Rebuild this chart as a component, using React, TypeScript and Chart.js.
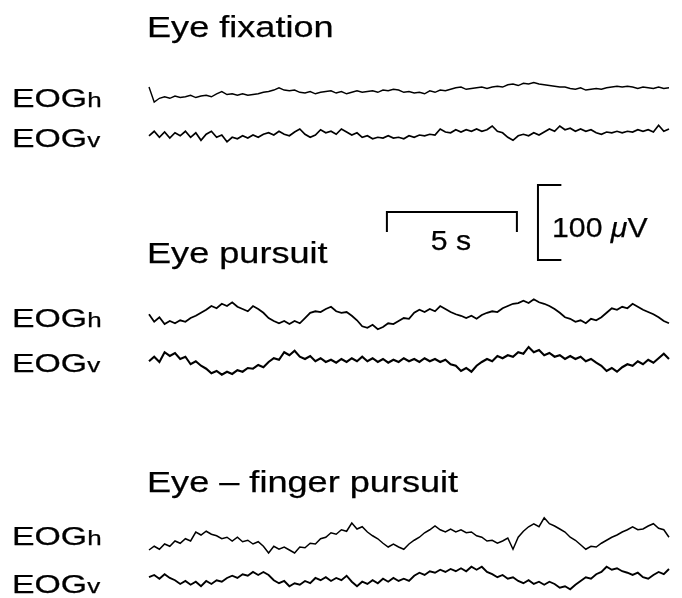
import React, { useEffect, useRef } from "react";
import { Chart, registerables } from "chart.js";

Chart.register(...registerables);

// ---- data (μV, relative to each trace's own baseline), sampled every 0.2 s ----
const SAMPLE_INTERVAL_S = 0.2;

const fixationH = [
  8, -12, -7, -5, -7, -4, -6, -5, -3, -6,
  -4, -3, -5, -1, 2, -2, -1, -3, -1, -3,
  -2, -1, 1, 2, 4, 7, 4, 3, 4, 1,
  0, 2, -1, 1, 2, 3, 0, 2, -1, 1,
  3, 1, 2, 3, 1, 4, 3, 5, 4, 1,
  2, 0, 1, -1, 3, 1, 4, 3, 5, 7,
  8, 5, 6, 7, 8, 6, 8, 9, 8, 11,
  12, 10, 13, 12, 14, 12, 11, 10, 9, 8,
  8, 6, 5, 7, 4, 5, 6, 5, 7, 8,
  9, 8, 9, 8, 6, 8, 7, 6, 8, 6,
  7,
];

const fixationV = [
  -1, 5, -3, 4, -4, 3, -1, 5, -3, 3,
  -7, 1, 5, -3, 0, -9, -3, -5, -1, -4,
  0, -3, 1, 3, 0, 5, 1, -1, 4, 8,
  1, -3, 0, 7, 3, 5, 1, 8, 4, 0,
  3, -3, -1, -5, -3, -4, -1, -4, -3, -5,
  -1, -3, 0, -1, 1, 0, 8, 4, 3, 7,
  4, 7, 5, 8, 5, 7, 12, 5, 3, -3,
  -7, -1, 1, -1, 3, 0, 4, 8, 5, 12,
  7, 9, 5, 8, 5, 7, 3, 1, 4, 3,
  5, 3, 5, 4, 7, 5, 7, 4, 13, 5,
  8,
];

const pursuitH = [
  1, -9, -3, -12, -8, -11, -7, -9, -4, -1,
  3, 7, 12, 9, 15, 12, 17, 11, 8, 5,
  12, 8, 3, -4, -8, -11, -8, -12, -8, -11,
  -4, 3, 5, 4, 8, 11, 5, 3, 4, -1,
  -7, -15, -17, -13, -19, -16, -11, -12, -8, -4,
  -5, 3, 7, 4, 8, 5, 12, 8, 4, 1,
  -1, -4, -1, -5, 0, 3, 5, 4, 9, 12,
  15, 16, 19, 16, 21, 17, 15, 12, 8, 3,
  -3, -5, -9, -7, -11, -5, -7, -3, 3, 9,
  7, 11, 9, 15, 11, 7, 4, 1, -3, -8,
  -11,
];

const pursuitV = [
  1, 7, 0, 13, 8, 12, 4, 7, -3, 1,
  -5, -9, -15, -12, -17, -13, -16, -11, -13, -8,
  -9, -4, -7, 0, 5, 3, 13, 9, 15, 7,
  4, 8, 1, 5, 0, 3, -1, 4, 0, 5,
  1, 7, 1, 5, 0, 4, -1, 3, 0, 5,
  1, 4, 0, 5, 1, 4, 0, 3, -3, -5,
  -12, -8, -13, -5, 0, 4, 1, 8, 5, 9,
  7, 13, 11, 20, 13, 16, 9, 12, 7, 9,
  4, 8, 4, 7, 1, 4, -1, -5, -12, -8,
  -13, -7, -3, -5, 1, -3, 3, -1, 5, 11,
  4,
];

const fingerH = [
  -16, -11, -15, -8, -11, -4, -7, -1, -4, 8,
  4, 9, 5, 3, -1, 1, -4, 1, -5, -3,
  -8, -5, -11, -20, -11, -15, -12, -16, -20, -12,
  -13, -7, -8, -1, 1, 7, 5, 11, 9, 20,
  12, 15, 8, 3, -1, -7, -12, -8, -12, -15,
  -8, -3, 1, 7, 11, 16, 11, 8, 12, 8,
  11, 7, 8, 3, 1, -4, -3, -7, -4, 0,
  -15, 1, 9, 15, 19, 15, 27, 19, 16, 12,
  8, 1, -3, -9, -15, -11, -12, -7, -3, 1,
  4, 8, 11, 15, 11, 12, 16, 19, 13, 11,
  1,
];

const fingerV = [
  1, 4, -1, 5, 0, -3, -8, -4, -9, -5,
  -11, -4, -8, -3, -5, 0, 3, 0, 5, 3,
  8, 4, 8, 4, -3, -7, -4, -11, -7, -9,
  -4, -7, 0, -3, 1, -4, 0, -3, 3, -5,
  -11, -5, -8, -3, -7, -1, -5, 0, -4, -1,
  -4, 3, 7, 4, 9, 7, 11, 8, 12, 9,
  13, 9, 15, 11, 15, 8, 5, 1, 4, -1,
  1, -4, -7, -3, -8, -5, -9, -5, -8, -13,
  -11, -15, -9, -4, 1, -1, 5, 8, 15, 11,
  13, 9, 7, 4, 7, 1, -1, 4, 8, 5,
  12,
];

const sectionTitles = ["Eye fixation", "Eye pursuit", "Eye \u2013 finger pursuit"];
const channelMain = "EOG";
const channelSubs = ["h", "v"];
const timeScaleLabel = "5 s";
const voltScaleLabel = ["100 ", "\u03bc", "V"];
const TIME_SCALE_S = 5;
const VOLT_SCALE_UV = 100;

// ---- layout ----
const W = 682;
const H = 598;
const PX_PER_S = 26;
const PX_PER_UV = 0.75;
const TRACE_LEFT_PX = 149;
const FONT = '"Liberation Sans", Arial, Helvetica, sans-serif';

// baseline of each trace, in μV on the shared vertical axis
const traceBaselines = [673.3, 617.3, 377.3, 314.7, 80, 26.7];
const traceWidths = [1.4, 1.7, 1.8, 2.1, 1.5, 1.9];

const TIME_BAR_START_S = 9.15;
const TIME_BAR_Y_UV = 514.7;
const TIME_BAR_TICK_UV = 26.7;
const VOLT_BAR_X_S = 14.96;
const VOLT_BAR_BOTTOM_UV = 450.7;
const VOLT_BAR_TICK_S = 0.9;

export default function App() {
  const ref = useRef<HTMLCanvasElement | null>(null);

  useEffect(() => {
    document.body.style.margin = "0";
    const canvas = ref.current;
    if (!canvas) return;

    const xMin = -TRACE_LEFT_PX / PX_PER_S;
    const xMax = xMin + W / PX_PER_S;
    const yMax = H / PX_PER_UV;

    const series = [fixationH, fixationV, pursuitH, pursuitV, fingerH, fingerV];
    const traceSets = series.map((vals, k) => ({
      label: "trace" + k,
      data: vals.map((v, i) => ({ x: i * SAMPLE_INTERVAL_S, y: v + traceBaselines[k] })),
      borderColor: "#000",
      borderWidth: traceWidths[k],
      borderJoinStyle: "miter",
      pointRadius: 0,
      tension: 0,
      fill: false,
    }));

    const timeBar = {
      label: "timebar",
      data: [
        { x: TIME_BAR_START_S, y: TIME_BAR_Y_UV - TIME_BAR_TICK_UV },
        { x: TIME_BAR_START_S, y: TIME_BAR_Y_UV },
        { x: TIME_BAR_START_S + TIME_SCALE_S, y: TIME_BAR_Y_UV },
        { x: TIME_BAR_START_S + TIME_SCALE_S, y: TIME_BAR_Y_UV - TIME_BAR_TICK_UV },
      ],
      borderColor: "#000",
      borderWidth: 2,
      pointRadius: 0,
      tension: 0,
      fill: false,
    };
    const voltBar = {
      label: "voltbar",
      data: [
        { x: VOLT_BAR_X_S + VOLT_BAR_TICK_S, y: VOLT_BAR_BOTTOM_UV + VOLT_SCALE_UV },
        { x: VOLT_BAR_X_S, y: VOLT_BAR_BOTTOM_UV + VOLT_SCALE_UV },
        { x: VOLT_BAR_X_S, y: VOLT_BAR_BOTTOM_UV },
        { x: VOLT_BAR_X_S + VOLT_BAR_TICK_S, y: VOLT_BAR_BOTTOM_UV },
      ],
      borderColor: "#000",
      borderWidth: 2,
      pointRadius: 0,
      tension: 0,
      fill: false,
    };

    const textPlugin = {
      id: "eogText",
      afterDraw(chart: any) {
        const ctx = chart.ctx as CanvasRenderingContext2D;
        ctx.save();
        ctx.fillStyle = "#000";
        ctx.strokeStyle = "#000";
        ctx.lineWidth = 0.25;
        ctx.textBaseline = "alphabetic";
        ctx.textAlign = "left";
        const runs = (x: number, y: number, sx: number, parts: { t: string; f: string }[]) => {
          ctx.save();
          ctx.translate(x, y);
          ctx.scale(sx, 1);
          let cx = 0;
          for (const p of parts) {
            ctx.font = p.f;
            ctx.fillText(p.t, cx, 0);
            ctx.strokeText(p.t, cx, 0);
            cx += ctx.measureText(p.t).width;
          }
          ctx.restore();
        };
        const titleBaselines = [37, 263, 492];
        sectionTitles.forEach((t, i) => runs(147, titleBaselines[i], 1.245, [{ t, f: `29px ${FONT}` }]));

        const labelBaselines = [107, 147, 327, 372, 545, 593];
        labelBaselines.forEach((b, i) =>
          runs(12, b, 1.3, [
            { t: channelMain, f: `26px ${FONT}` },
            { t: channelSubs[i % 2], f: `20px ${FONT}` },
          ])
        );

        // scale labels
        ctx.save();
        ctx.font = `28px ${FONT}`;
        const tw = ctx.measureText(timeScaleLabel).width * 1.08;
        ctx.restore();
        runs(451 - tw / 2, 250, 1.08, [{ t: timeScaleLabel, f: `28px ${FONT}` }]);
        runs(552, 237, 1.08, [
          { t: voltScaleLabel[0], f: `28px ${FONT}` },
          { t: voltScaleLabel[1], f: `italic 28px ${FONT}` },
          { t: voltScaleLabel[2], f: `28px ${FONT}` },
        ]);
        ctx.restore();
      },
    };

    const chart = new Chart(canvas, {
      type: "line",
      data: { datasets: [...traceSets, timeBar, voltBar] as any },
      options: {
        animation: false,
        responsive: false,
        maintainAspectRatio: false,
        layout: { padding: 0 },
        parsing: false as any,
        normalized: true,
        plugins: { legend: { display: false }, tooltip: { enabled: false }, title: { display: false } },
        events: [],
        scales: {
          x: { type: "linear", min: xMin, max: xMax, display: false },
          y: { type: "linear", min: 0, max: yMax, display: false },
        },
      },
      plugins: [textPlugin],
    });
    return () => chart.destroy();
  }, []);

  return (
    <div style={{ width: W, height: H, background: "#fff" }}>
      <canvas ref={ref} width={W} height={H} style={{ display: "block", width: W, height: H }} />
    </div>
  );
}
